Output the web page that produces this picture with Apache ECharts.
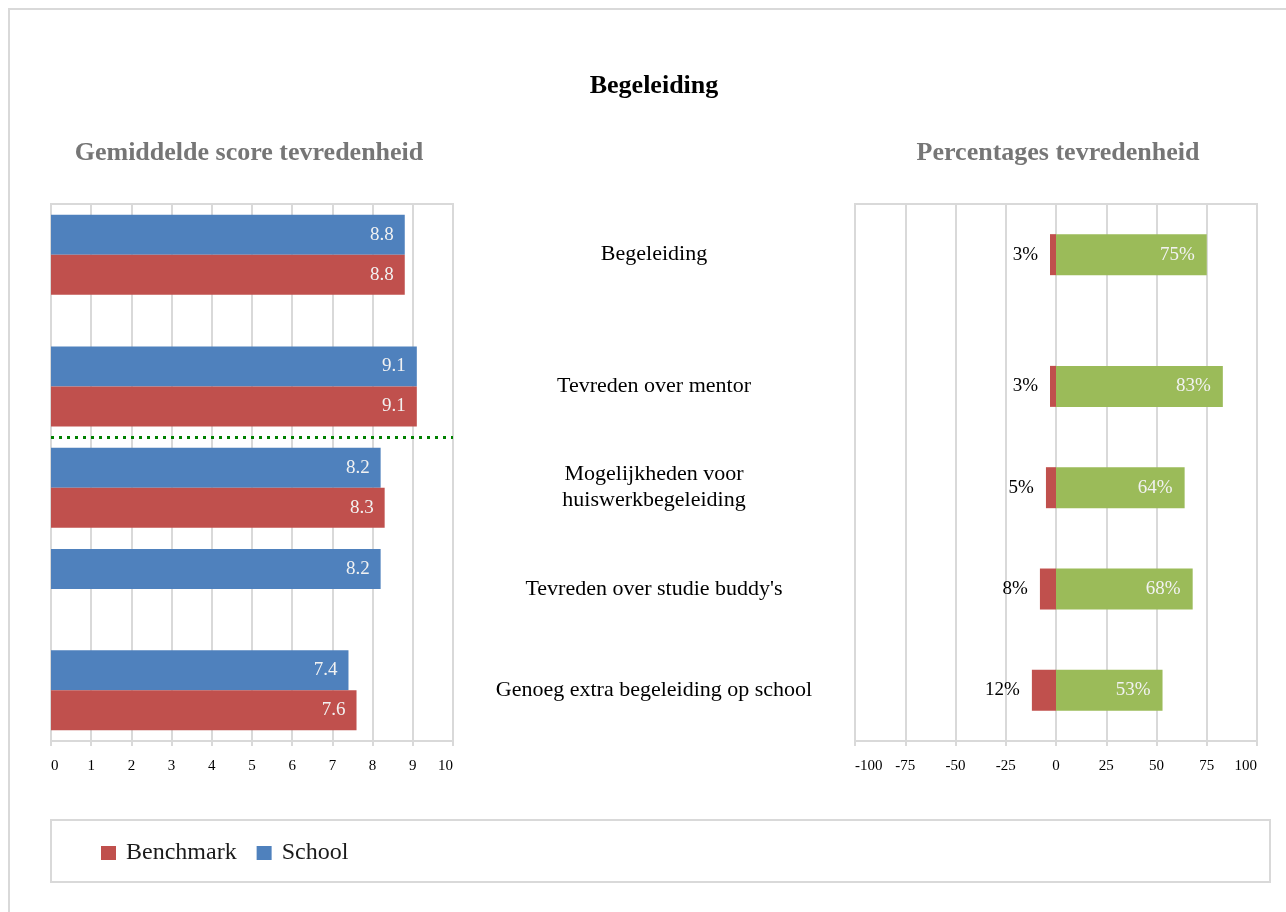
<!DOCTYPE html>
<html>
<head>
<meta charset="utf-8">
<script src="https://cdn.jsdelivr.net/npm/echarts@6/dist/echarts.min.js"></script>
<style>
  html, body { margin: 0; padding: 0; background: #fff; }
  #chart { width: 1286px; height: 912px; }
</style>
</head>
<body>
<div id="chart"></div>
<script>
// ---- data ----
const categories = [
  'Begeleiding',
  'Tevreden over mentor',
  'Mogelijkheden voor\nhuiswerkbegeleiding',
  "Tevreden over studie buddy's",
  'Genoeg extra begeleiding op school'
];
const schoolScores    = [8.8, 9.1, 8.2, 8.2, 7.4];
const benchmarkScores = [8.8, 9.1, 8.3, null, 7.6];
const ontevredenPct   = [3, 3, 5, 8, 12];
const tevredenPct     = [75, 83, 64, 68, 53];
const seriesNames     = ['Benchmark', 'School'];

// ---- layout (vertical slot positions of the categories) ----
const SLOT_COUNT = 54;
const SLOT_OF = [5, 18, 28, 38, 48];
const SEPARATOR_SLOT = 23;

function spread(values, filler) {
  const arr = new Array(SLOT_COUNT).fill(filler);
  values.forEach((v, i) => { arr[SLOT_OF[i]] = v; });
  return arr;
}

const FONT = 'Liberation Serif, Times New Roman, serif';
const GRID_LINE = '#d9d9d9';
const RED = '#c0504d', BLUE = '#4f81bd', GREEN = '#9bbb59';

const chart = echarts.init(document.getElementById('chart'));

const xAxisCommon = {
  axisLine: { show: true, lineStyle: { color: GRID_LINE, width: 2 } },
  axisTick: { show: true, length: 5, lineStyle: { color: GRID_LINE, width: 2 } },
  splitLine: { show: true, lineStyle: { color: GRID_LINE, width: 2 } },
  axisLabel: { fontFamily: FONT, fontSize: 15, color: '#000', margin: 18,
               alignMinLabel: 'left', alignMaxLabel: 'right' }
};

const scoreLabel = {
  show: true, position: 'insideRight', distance: 11,
  fontFamily: FONT, fontSize: 19, color: '#f2f2f2',
  formatter: p => p.value == null ? '' : Number(p.value).toFixed(1)
};

const option = {
  animation: false,
  backgroundColor: '#fff',
  title: [
    { text: 'Begeleiding', left: 654, top: 73, textAlign: 'center', padding: 0,
      textStyle: { fontFamily: FONT, fontSize: 26, fontWeight: 'bold', color: '#000' } },
    { text: 'Gemiddelde score tevredenheid', left: 249, top: 140, textAlign: 'center', padding: 0,
      textStyle: { fontFamily: FONT, fontSize: 26, fontWeight: 'bold', color: '#767676' } },
    { text: 'Percentages tevredenheid', left: 1058, top: 140, textAlign: 'center', padding: 0,
      textStyle: { fontFamily: FONT, fontSize: 26, fontWeight: 'bold', color: '#767676' } }
  ],
  legend: {
    data: seriesNames,
    left: 101, top: 841,
    icon: 'rect', itemWidth: 15, itemHeight: 14, itemGap: 20,
    padding: 0,
    textStyle: { fontFamily: FONT, fontSize: 24, color: '#1a1a1a', padding: [0, 0, 0, 5] }
  },
  graphic: [
    { type: 'rect', shape: { x: 9, y: 9, width: 1320, height: 1000 }, silent: true,
      style: { fill: 'none', stroke: GRID_LINE, lineWidth: 2 } },
    { type: 'rect', shape: { x: 51, y: 820, width: 1219, height: 62 }, silent: true,
      style: { fill: 'none', stroke: GRID_LINE, lineWidth: 2 } }
  ],
  grid: [
    { left: 51, top: 204, width: 402, height: 537, show: true,
      borderColor: GRID_LINE, borderWidth: 2, containLabel: false },
    { left: 855, top: 204, width: 402, height: 537, show: true,
      borderColor: GRID_LINE, borderWidth: 2, containLabel: false }
  ],
  xAxis: [
    Object.assign({ type: 'value', gridIndex: 0, min: 0, max: 10, interval: 1 }, xAxisCommon),
    Object.assign({ type: 'value', gridIndex: 1, min: -100, max: 100, interval: 25 }, xAxisCommon)
  ],
  yAxis: [
    { type: 'category', gridIndex: 0, inverse: true, boundaryGap: false,
      data: spread(categories, ''),
      axisLine: { show: false }, axisTick: { show: false }, axisLabel: { show: false },
      splitLine: { show: false } },
    { type: 'category', gridIndex: 1, inverse: true, boundaryGap: false,
      data: spread(categories, ''),
      axisLine: { show: false }, axisTick: { show: false }, splitLine: { show: false },
      axisLabel: { show: true, interval: 0, align: 'center', margin: 201,
                   fontFamily: FONT, fontSize: 22, lineHeight: 26, color: '#000' } }
  ],
  series: [
    {
      name: 'School', type: 'bar', xAxisIndex: 0, yAxisIndex: 0,
      data: spread(schoolScores, null),
      barWidth: 40, barGap: '0%',
      itemStyle: { color: BLUE },
      label: scoreLabel
    },
    {
      name: 'Benchmark', type: 'bar', xAxisIndex: 0, yAxisIndex: 0,
      data: spread(benchmarkScores, null),
      barWidth: 40, barGap: '0%',
      itemStyle: { color: RED },
      label: scoreLabel
    },
    {
      name: 'separator', type: 'line', xAxisIndex: 0, yAxisIndex: 0,
      data: [], silent: true, symbol: 'none',
      markLine: {
        silent: true, symbol: ['none', 'none'],
        label: { show: false },
        lineStyle: { color: '#008000', width: 3, type: [3, 5] },
        data: [[ { coord: [0, SEPARATOR_SLOT] }, { coord: [10, SEPARATOR_SLOT] } ]]
      }
    },
    {
      name: 'Ontevreden', type: 'bar', xAxisIndex: 1, yAxisIndex: 1, stack: 'pct',
      data: spread(ontevredenPct.map(v => -v), null),
      barWidth: 41,
      itemStyle: { color: RED },
      label: { show: true, position: 'left', distance: 12,
               fontFamily: FONT, fontSize: 19, color: '#000',
               formatter: p => p.value == null ? '' : Math.abs(p.value) + '%' }
    },
    {
      name: 'Tevreden', type: 'bar', xAxisIndex: 1, yAxisIndex: 1, stack: 'pct',
      data: spread(tevredenPct, null),
      barWidth: 41,
      itemStyle: { color: GREEN },
      label: { show: true, position: 'insideRight', distance: 12,
               fontFamily: FONT, fontSize: 19, color: '#f2f2f2',
               formatter: p => p.value == null ? '' : p.value + '%' }
    }
  ]
};

chart.setOption(option);
</script>
</body>
</html>
